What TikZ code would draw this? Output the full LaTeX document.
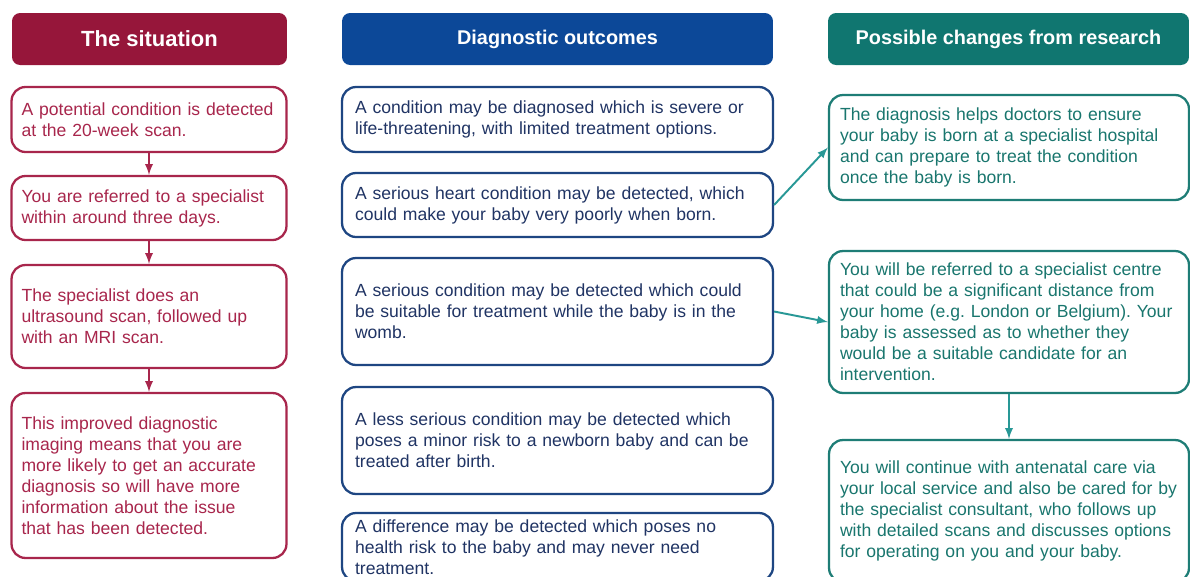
\documentclass[tikz,border=0pt]{standalone}
\usepackage{fontspec}
\setmainfont{Liberation Sans}
\usepackage{tikz}
\usetikzlibrary{arrows, positioning}

\definecolor{sitdark}{RGB}{150,22,58}
\definecolor{sitline}{RGB}{168,38,76}
\definecolor{outdark}{RGB}{12,72,152}
\definecolor{outedge}{RGB}{30,70,130}
\definecolor{outtext}{RGB}{32,52,100}
\definecolor{resdark}{RGB}{16,118,112}
\definecolor{resedge}{RGB}{30,125,118}
\definecolor{restext}{RGB}{25,118,110}
\definecolor{resarrow}{RGB}{40,152,150}

\frenchspacing
\newcommand{\tightspace}{\spaceskip=0.22em plus 0.1em minus 0.02em\relax}
\tikzset{
    head/.style={rounded corners=0.16cm, text=white, inner sep=0pt, minimum height=1.04cm},
    card/.style={draw, line width=1.3pt, fill=white, rounded corners=0.28cm, align=left, inner ysep=2pt, font=\fontsize{10}{12}\selectfont},
    sitcard/.style={card, draw=sitline, text=sitline, inner xsep=0.2cm, text width=5.1cm, minimum width=5.5cm},
    outcard/.style={card, draw=outedge, text=outtext, inner xsep=0.26cm, text width=8.1cm, minimum width=8.62cm},
    rescard/.style={card, draw=resedge, text=restext, inner xsep=0.22cm, text width=6.76cm, minimum width=7.2cm,
        font=\fontsize{10}{12}\selectfont\tightspace},
    sitarrow/.style={-latex, line width=1.1pt, draw=sitline},
    resarrow/.style={-latex, line width=1.1pt, draw=resarrow}
}

\begin{document}
\begin{tikzpicture}[x=0.02cm, y=-0.02cm]
    \useasboundingbox (0,0) rectangle (1190,576);
    \clip (0,0) rectangle (1190,576);

    % column headings
    \node[head, fill=sitdark, minimum width=5.5cm, font=\fontsize{12.5}{15}\selectfont\bfseries] (sithead) at (149.5,39) {The situation};
    \node[head, fill=outdark, minimum width=8.62cm, font=\fontsize{11.3}{14}\selectfont\bfseries] (outhead) at (557.5,39) {Diagnostic outcomes};
    \node[head, fill=resdark, minimum width=7.22cm, font=\fontsize{11.3}{14}\selectfont\bfseries] (reshead) at (1008.5,39) {Possible changes from research};

    % the situation
    \node[sitcard, minimum height=1.3cm] (sit1) at (149,119.5) {A potential condition is detected\\ at the 20-week scan.};
    \node[sitcard, minimum height=1.28cm] (sit2) at (149,208) {You are referred to a specialist\\ within around three days.};
    \node[sitcard, minimum height=2.06cm] (sit3) at (149,316.5) {The specialist does an\\ ultrasound scan, followed up\\ with an MRI scan.};
    \node[sitcard, minimum height=3.3cm] (sit4) at (149,475.5) {This improved diagnostic\\ imaging means that you are\\ more likely to get an accurate\\ diagnosis so will have more\\ information about the issue\\ that has been detected.};

    \draw[sitarrow] (sit1) -- (sit2);
    \draw[sitarrow] (sit2) -- (sit3);
    \draw[sitarrow] (sit3) -- (sit4);

    % diagnostic outcomes
    \node[outcard, minimum height=1.3cm] (out1) at (557.5,119.5) {A condition may be diagnosed which is severe or\\ life-threatening, with limited treatment options.};
    \node[outcard, minimum height=1.28cm] (out2) at (557.5,205) {A serious heart condition may be detected, which\\ could make your baby very poorly when born.};
    \node[outcard, minimum height=2.14cm] (out3) at (557.5,311.5) {A serious condition may be detected which could\\ be suitable for treatment while the baby is in the\\ womb.};
    \node[outcard, minimum height=2.14cm] (out4) at (557.5,440.5) {A less serious condition may be detected which\\ poses a minor risk to a newborn baby and can be\\ treated after birth.};
    \node[outcard, minimum height=1.36cm] (out5) at (557.5,547) {A difference may be detected which poses no\\ health risk to the baby and may never need\\ treatment.};

    % possible changes from research
    \node[rescard, minimum height=2.1cm] (res1) at (1009,147.5) {The diagnosis helps doctors to ensure\\ your baby is born at a specialist hospital\\ and can prepare to treat the condition\\ once the baby is born.};
    \node[rescard, minimum height=2.84cm] (res2) at (1009,322) {You will be referred to a specialist centre\\ that could be a significant distance from\\ your home (e.g. London or Belgium). Your\\ baby is assessed as to whether they\\ would be a suitable candidate for an\\ intervention.};
    \node[rescard, minimum height=2.84cm] (res3) at (1009,511) {You will continue with antenatal care via\\ your local service and also be cared for by\\ the specialist consultant, who follows up\\ with detailed scans and discusses options\\ for operating on you and your baby.};

    \draw[resarrow] (out2.east) -- (res1.west);
    \draw[resarrow] (out3.east) -- (res2.west);
    \draw[resarrow] (res2) -- (res3);
\end{tikzpicture}
\end{document}
